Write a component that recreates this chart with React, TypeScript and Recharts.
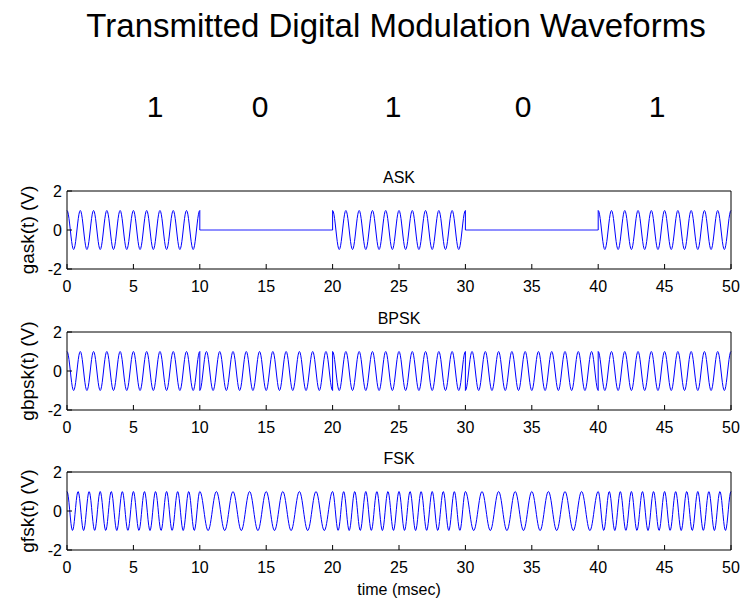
import { LineChart, Line, XAxis, YAxis } from 'recharts'

// bit sequence and signal parameters
const bits = [1, 0, 1, 0, 1]
const bitMs = 10
const carrierKHz = 1
const askAmplitude = [0, 1] // by bit value
const bpskSign = [-1, 1]
const fskKHz = [0.8, 1.2]
const sampleMs = 0.05

const xTicks = [0, 5, 10, 15, 20, 25, 30, 35, 40, 45, 50]
const yTicks = [-2, 0, 2]

const panelNames = ['ASK', 'BPSK', 'FSK']
const panelKeys = ['ask', 'bpsk', 'fsk']
const panelYLabels = ['gask(t) (V)', 'gbpsk(t) (V)', 'gfsk(t) (V)']

type Row = { t: number; ask: number; bpsk: number; fsk: number }

// sample table for the library, built from the bits above
function buildRows(): Row[] {
  const rows: Row[] = []
  const n = Math.round(bitMs / sampleMs)
  bits.forEach((b, i) => {
    for (let k = 0; k <= n; k++) {
      const t = +(i * bitMs + k * sampleMs).toFixed(3)
      const c = Math.cos(2 * Math.PI * carrierKHz * t)
      rows.push({
        t,
        ask: askAmplitude[b] * c,
        bpsk: bpskSign[b] * c,
        fsk: Math.cos(2 * Math.PI * fskKHz[b] * t),
      })
    }
  })
  return rows
}

const rows = buildRows()

const font = '"Liberation Sans", Arial, sans-serif'
const plotTops = [191, 332, 472]
const bitLabelLeft = [155, 260, 393, 523, 657]
const padTop = 12

function Panel({ idx }: { idx: number }) {
  const top = plotTops[idx]
  return (
    <>
      <div style={{ position: 'absolute', left: 0, width: 798, top: top - 21, fontSize: 16, lineHeight: '16px', textAlign: 'center' }}>
        {panelNames[idx]}
      </div>
      <div
        style={{
          position: 'absolute',
          left: 27,
          top: top + 39,
          fontSize: 19,
          lineHeight: '19px',
          whiteSpace: 'nowrap',
          transform: 'translate(-50%, -50%) rotate(-90deg)',
        }}
      >
        {panelYLabels[idx]}
      </div>
      <div style={{ position: 'absolute', left: 0, top: top - padTop }}>
        <LineChart width={743} height={78 + padTop + 35} data={rows} margin={{ top: padTop - 1, right: 11, bottom: 0, left: 0 }}>
          <XAxis
            xAxisId="b"
            dataKey="t"
            type="number"
            domain={[0, 50]}
            ticks={xTicks}
            interval={0}
            height={35}
            tickSize={-5}
            tickMargin={17}
            tick={{ fontSize: 16, fill: '#000', fontFamily: font }}
            axisLine={{ stroke: '#000' }}
            tickLine={{ stroke: '#000' }}
          />
          <XAxis
            xAxisId="t"
            orientation="top"
            dataKey="t"
            type="number"
            domain={[0, 50]}
            ticks={xTicks}
            interval={0}
            height={1}
            tickSize={-5}
            tick={false}
            axisLine={{ stroke: '#000' }}
            tickLine={{ stroke: '#000' }}
          />
          <YAxis
            yAxisId="l"
            type="number"
            domain={[-2, 2]}
            ticks={yTicks}
            interval={0}
            width={67}
            tickSize={-5}
            tickMargin={10}
            tick={{ fontSize: 16, fill: '#000', fontFamily: font }}
            axisLine={{ stroke: '#000' }}
            tickLine={{ stroke: '#000' }}
          />
          <YAxis
            yAxisId="r"
            orientation="right"
            type="number"
            domain={[-2, 2]}
            ticks={yTicks}
            interval={0}
            width={1}
            tickSize={-5}
            tick={false}
            axisLine={{ stroke: '#000' }}
            tickLine={{ stroke: '#000' }}
          />
          {/* same series on the top/right axes, unstroked, so the box axes get drawn */}
          <Line
            xAxisId="t"
            yAxisId="r"
            type="linear"
            dataKey={panelKeys[idx]}
            stroke="none"
            dot={false}
            activeDot={false}
            isAnimationActive={false}
          />
          <Line
            xAxisId="b"
            yAxisId="l"
            type="linear"
            dataKey={panelKeys[idx]}
            stroke="#0000ff"
            strokeWidth={1}
            dot={false}
            isAnimationActive={false}
          />
        </LineChart>
      </div>
    </>
  )
}

export default function App() {
  return (
    <div
      style={{
        position: 'absolute',
        left: 0,
        top: 0,
        width: 743,
        height: 606,
        background: '#fff',
        fontFamily: font,
        color: '#000',
        overflow: 'hidden',
      }}
    >
      <div style={{ position: 'absolute', left: 0, width: 792, top: 9, fontSize: 33, lineHeight: '33px', textAlign: 'center' }}>
        Transmitted Digital Modulation Waveforms
      </div>
      {bits.map((b, i) => (
        <div
          key={i}
          style={{ position: 'absolute', left: bitLabelLeft[i], top: 92, fontSize: 30, lineHeight: '30px', transform: 'translateX(-50%)' }}
        >
          {b}
        </div>
      ))}
      {panelNames.map((_, i) => (
        <Panel key={i} idx={i} />
      ))}
      <div style={{ position: 'absolute', left: 0, width: 798, top: 582, fontSize: 16, lineHeight: '16px', textAlign: 'center' }}>
        time (msec)
      </div>
    </div>
  )
}
